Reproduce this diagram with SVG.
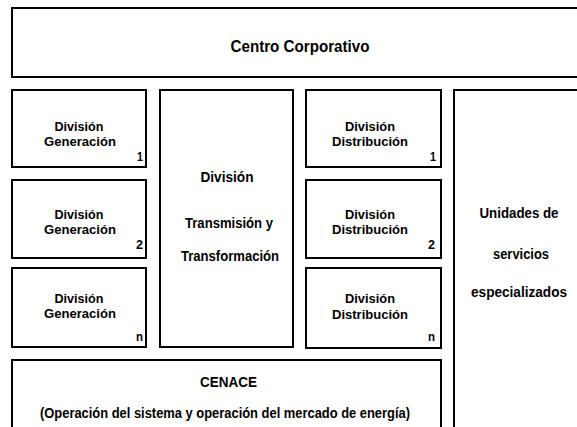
<svg xmlns="http://www.w3.org/2000/svg" width="577" height="427" viewBox="0 0 577 427">
<style>
.box{fill:#fff;stroke:#000;stroke-width:2}
text{font-family:"Liberation Sans",Arial,sans-serif;font-weight:bold;fill:#000;font-size:13.5px}
.c{text-anchor:middle}
.e{text-anchor:end}
.big{font-size:16.5px}
.mid{font-size:15px}
.u{font-size:14px}
</style>
<rect width="577" height="427" fill="#fff"/>
<g id="connectors"></g>
<g id="centro">
<rect class="box" x="12" y="8" width="600" height="69"/>
<text class="c big" x="300" y="52" textLength="139" lengthAdjust="spacingAndGlyphs">Centro Corporativo</text>
</g>
<g id="gen1">
<rect class="box" x="12" y="90" width="134" height="77"/>
<text class="c" x="79" y="131" textLength="49" lengthAdjust="spacingAndGlyphs">División</text>
<text class="c" x="80" y="146" textLength="72" lengthAdjust="spacingAndGlyphs">Generación</text>
<text class="e" x="143" y="161" textLength="6" lengthAdjust="spacingAndGlyphs">1</text>
</g>
<g id="gen2">
<rect class="box" x="12" y="180" width="134" height="78"/>
<text class="c" x="79" y="219" textLength="49" lengthAdjust="spacingAndGlyphs">División</text>
<text class="c" x="80" y="234" textLength="72" lengthAdjust="spacingAndGlyphs">Generación</text>
<text class="e" x="143" y="249" textLength="7" lengthAdjust="spacingAndGlyphs">2</text>
</g>
<g id="genn">
<rect class="box" x="12" y="268" width="134" height="79"/>
<text class="c" x="79" y="303" textLength="49" lengthAdjust="spacingAndGlyphs">División</text>
<text class="c" x="80" y="318" textLength="72" lengthAdjust="spacingAndGlyphs">Generación</text>
<text class="e" x="143" y="341" textLength="7" lengthAdjust="spacingAndGlyphs">n</text>
</g>
<g id="transmision">
<rect class="box" x="160" y="90" width="133" height="257"/>
<text class="c mid" x="227" y="182" textLength="53" lengthAdjust="spacingAndGlyphs">División</text>
<text class="c mid" x="229" y="228" textLength="88" lengthAdjust="spacingAndGlyphs">Transmisión y</text>
<text class="c mid" x="230" y="261" textLength="98" lengthAdjust="spacingAndGlyphs">Transformación</text>
</g>
<g id="dist1">
<rect class="box" x="306" y="90" width="135" height="77"/>
<text class="c" x="370" y="131" textLength="50" lengthAdjust="spacingAndGlyphs">División</text>
<text class="c" x="370" y="146" textLength="76" lengthAdjust="spacingAndGlyphs">Distribución</text>
<text class="e" x="436" y="161" textLength="6" lengthAdjust="spacingAndGlyphs">1</text>
</g>
<g id="dist2">
<rect class="box" x="306" y="180" width="135" height="78"/>
<text class="c" x="370" y="219" textLength="50" lengthAdjust="spacingAndGlyphs">División</text>
<text class="c" x="370" y="234" textLength="76" lengthAdjust="spacingAndGlyphs">Distribución</text>
<text class="e" x="435" y="249" textLength="7" lengthAdjust="spacingAndGlyphs">2</text>
</g>
<g id="distn">
<rect class="box" x="306" y="268" width="135" height="80"/>
<text class="c" x="370" y="303" textLength="50" lengthAdjust="spacingAndGlyphs">División</text>
<text class="c" x="370" y="319" textLength="76" lengthAdjust="spacingAndGlyphs">Distribución</text>
<text class="e" x="435" y="341" textLength="7" lengthAdjust="spacingAndGlyphs">n</text>
</g>
<g id="unidades">
<rect class="box" x="454" y="90" width="200" height="400"/>
<text class="c u" x="519" y="218" textLength="79" lengthAdjust="spacingAndGlyphs">Unidades de</text>
<text class="c u" x="521" y="259" textLength="56" lengthAdjust="spacingAndGlyphs">servicios</text>
<text class="c u" x="519" y="297" textLength="96" lengthAdjust="spacingAndGlyphs">especializados</text>
</g>
<g id="cenace">
<rect class="box" x="12" y="360" width="429" height="120"/>
<text class="c u" x="228.5" y="387" textLength="57" lengthAdjust="spacingAndGlyphs">CENACE</text>
<text class="c u" x="225" y="418" textLength="370" lengthAdjust="spacingAndGlyphs">(Operación del sistema y operación del mercado de energía)</text>
</g>
</svg>
